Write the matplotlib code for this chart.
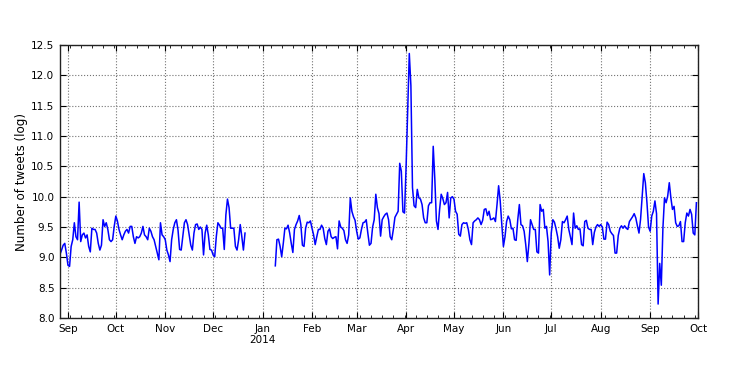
import numpy as np
import pandas as pd
import matplotlib
matplotlib.use('Agg')
import matplotlib.pyplot as plt
import matplotlib.dates as mdates
from matplotlib.ticker import FuncFormatter, MultipleLocator, FormatStrFormatter

# daily log tweet counts, first block (27 Aug 2013 - 21 Dec 2013)
start_1 = '2013-08-27'
values_1 = [
    9.05, 9.12, 9.20, 9.23, 9.07, 8.87, 8.85, 9.18, 9.29, 9.57,
    9.34, 9.29, 9.91, 9.26, 9.37, 9.40, 9.32, 9.37, 9.18, 9.09,
    9.48, 9.46, 9.46, 9.40, 9.23, 9.12, 9.20, 9.62, 9.51, 9.57,
    9.46, 9.29, 9.26, 9.29, 9.51, 9.68, 9.60, 9.46, 9.37, 9.29,
    9.37, 9.43, 9.46, 9.40, 9.51, 9.51, 9.34, 9.23, 9.34, 9.32,
    9.34, 9.40, 9.51, 9.37, 9.34, 9.29, 9.48, 9.43, 9.34, 9.29,
    9.18, 9.07, 8.96, 9.57, 9.37, 9.34, 9.29, 9.12, 9.04, 8.93,
    9.29, 9.46, 9.57, 9.62, 9.45, 9.13, 9.12, 9.34, 9.57, 9.62,
    9.54, 9.37, 9.20, 9.12, 9.40, 9.54, 9.55, 9.46, 9.50, 9.46,
    9.04, 9.40, 9.53, 9.37, 9.13, 9.12, 9.04, 9.01, 9.34, 9.57,
    9.53, 9.48, 9.48, 9.13, 9.70, 9.96, 9.82, 9.48, 9.48, 9.48,
    9.18, 9.12, 9.29, 9.54, 9.34, 9.12, 9.40,
]

# second block (9 Jan 2014 - 30 Sep 2014)
start_2 = '2014-01-09'
values_2 = [
    8.86, 9.29, 9.30, 9.18, 9.01, 9.23, 9.48, 9.47, 9.53, 9.40,
    9.23, 9.08, 9.46, 9.54, 9.60, 9.69, 9.54, 9.20, 9.18, 9.48,
    9.58, 9.57, 9.60, 9.48, 9.37, 9.21, 9.34, 9.46, 9.46, 9.53,
    9.48, 9.31, 9.21, 9.43, 9.47, 9.34, 9.31, 9.33, 9.34, 9.14,
    9.60, 9.50, 9.48, 9.44, 9.29, 9.23, 9.37, 9.98, 9.76, 9.67,
    9.61, 9.43, 9.30, 9.32, 9.46, 9.57, 9.58, 9.62, 9.40, 9.20,
    9.23, 9.50, 9.62, 10.04, 9.82, 9.72, 9.35, 9.62, 9.67, 9.71,
    9.73, 9.62, 9.34, 9.29, 9.46, 9.66, 9.71, 9.76, 10.55, 10.42,
    9.75, 9.73, 10.50, 11.45, 12.36, 11.83, 10.15, 9.85, 9.82, 10.12,
    9.98, 9.96, 9.87, 9.65, 9.57, 9.57, 9.85, 9.90, 9.90, 10.83,
    10.29, 9.60, 9.46, 9.79, 10.04, 9.97, 9.87, 9.90, 10.07, 9.65,
    9.98, 10.00, 9.96, 9.76, 9.71, 9.38, 9.35, 9.54, 9.57, 9.56,
    9.57, 9.46, 9.29, 9.21, 9.57, 9.60, 9.62, 9.65, 9.62, 9.54,
    9.61, 9.79, 9.80, 9.69, 9.76, 9.62, 9.63, 9.65, 9.59, 9.87,
    10.18, 9.93, 9.54, 9.18, 9.34, 9.59, 9.68, 9.62, 9.47, 9.48,
    9.29, 9.28, 9.62, 9.87, 9.54, 9.52, 9.43, 9.21, 8.93, 9.23,
    9.62, 9.54, 9.46, 9.46, 9.09, 9.07, 9.87, 9.76, 9.79, 9.48,
    9.51, 9.26, 8.71, 9.40, 9.62, 9.58, 9.47, 9.34, 9.15, 9.29,
    9.59, 9.57, 9.62, 9.68, 9.46, 9.34, 9.21, 9.73, 9.48, 9.52,
    9.46, 9.47, 9.21, 9.19, 9.59, 9.61, 9.48, 9.46, 9.46, 9.21,
    9.41, 9.50, 9.54, 9.51, 9.54, 9.50, 9.30, 9.30, 9.58, 9.54,
    9.43, 9.39, 9.36, 9.07, 9.07, 9.36, 9.48, 9.52, 9.48, 9.52,
    9.48, 9.46, 9.59, 9.63, 9.67, 9.72, 9.65, 9.52, 9.40, 9.63,
    10.00, 10.38, 10.23, 9.90, 9.50, 9.43, 9.68, 9.76, 9.93, 9.72,
    8.23, 8.90, 8.54, 9.48, 9.98, 9.90, 10.01, 10.23, 9.98, 9.79,
    9.84, 9.57, 9.51, 9.52, 9.59, 9.26, 9.26, 9.57, 9.73, 9.68,
    9.79, 9.71, 9.40, 9.37, 9.90,
]

x_start = '2013-08-27'
x_end = '2014-10-01'

s1 = pd.Series(values_1, index=pd.date_range(start_1, periods=len(values_1), freq='D'))
s2 = pd.Series(values_2, index=pd.date_range(start_2, periods=len(values_2), freq='D'))
series = pd.concat([s1, s2]).asfreq('D')  # gap becomes NaN

plt.rcParams['font.family'] = 'DejaVu Sans'
plt.rcParams['font.size'] = 7.5

fig = plt.figure(figsize=(7.47, 3.74), dpi=100)
ax = fig.add_axes([0.0803, 0.1497, 0.8541, 0.7300])

ax.plot(series.index, series.values, color='#0000ff', lw=1.1)

ax.set_xlim(pd.Timestamp(x_start), pd.Timestamp(x_end))
ax.set_ylim(8.0, 12.5)
ax.yaxis.set_major_locator(MultipleLocator(0.5))
ax.yaxis.set_major_formatter(FormatStrFormatter('%.1f'))

ax.xaxis.set_major_locator(mdates.MonthLocator())
ax.xaxis.set_minor_locator(mdates.WeekdayLocator(byweekday=mdates.MO))


def month_label(x, pos):
    d = mdates.num2date(x)
    if d.month == 1:
        return d.strftime('%b\n%Y')
    return d.strftime('%b')


ax.xaxis.set_major_formatter(FuncFormatter(month_label))

ax.set_ylabel('Number of tweets (log)', fontsize=8.6, labelpad=2)
ax.grid(True, which='major', linestyle=':', color='0.45', lw=0.8)

ax.tick_params(which='both', direction='in', top=True, right=True, color='k')
ax.tick_params(which='major', length=4, width=0.8, pad=4)
ax.tick_params(which='minor', length=2, width=0.6)
for sp in ax.spines.values():
    sp.set_linewidth(1.0)
    sp.set_color('#222222')

fig.savefig('out.png', dpi=100)
